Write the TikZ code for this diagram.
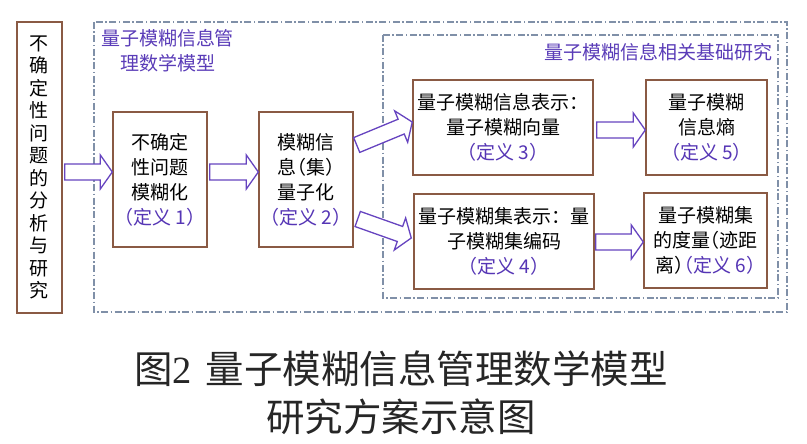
\documentclass[tikz,border=0pt]{standalone}
\usepackage{fontspec}
\setmainfont{Noto Sans CJK SC}
\newfontfamily\capserif{Liberation Serif}
\usetikzlibrary{calc}
\newcommand\lpar{{\addfontfeatures{RawFeature=+halt}（}}
\newcommand\rpar{{\addfontfeatures{RawFeature=+halt}）}}
\definecolor{boxc}{HTML}{8A5A44}
\definecolor{dashc}{HTML}{8090A8}
\definecolor{defc}{HTML}{5535B5}
\definecolor{titc}{HTML}{5A3CB8}
\definecolor{arrc}{HTML}{6644C0}
\newcommand\dy[1]{\textcolor{defc}{\lpar 定义\hspace{4pt}#1\rpar}}
\begin{document}
\begin{tikzpicture}[x=1pt,y=-1pt,
  box/.style={draw=boxc, line width=1.4pt, fill=white, inner sep=0pt, align=center,
    font=\fontsize{19}{25}\selectfont},
  zone/.style={draw=dashc, line width=1.1pt, dash pattern=on 7pt off 2.5pt on 1.5pt off 2.5pt},
  title/.style={text=titc, inner sep=0pt, align=center, font=\fontsize{19}{25}\selectfont},
  arrowst/.style={draw=arrc, line width=1.3pt, fill=white, line join=miter},
  pics/barrow/.style={code={
    \draw[arrowst] (0,-8) -- ({#1-12},-8) -- ({#1-12},-17) -- (#1,0) -- ({#1-12},17) -- ({#1-12},8) -- (0,8) -- cycle;}}
]
\useasboundingbox (0,0) rectangle (807,444);
\fill[white] (0,0) rectangle (807,444);

% dashed zones
\draw[zone] (94,22) rectangle (787,312);
\draw[zone] (383,35) rectangle (778,298);
\node[title] (t1) at (167.5,50.5) {量子模糊信息管\\理数学模型};
\node[title, anchor=east] (t2) at (773,52) {量子模糊信息相关基础研究};

% boxes
\node[box, minimum width=45, minimum height=291, font=\fontsize{19}{22.5}\selectfont] (b0) at (39.5,167.5)
  {不\\确\\定\\性\\问\\题\\的\\分\\析\\与\\研\\究};
\node[box, minimum width=94, minimum height=135] (b1) at (160,179.5) {不确定\\性问题\\模糊化\\\dy{1}};
\node[box, minimum width=94, minimum height=135] (b2) at (306,179.5) {模糊信\\息\lpar 集\rpar\\量子化\\\dy{2}};
\node[box, minimum width=180, minimum height=95] (b3) at (503,127.5) {量子模糊信息表示：\\量子模糊向量\\\dy{3}};
\node[box, minimum width=121, minimum height=95] (b5) at (706.5,127.5) {量子模糊\\信息熵\\\dy{5}};
\node[box, minimum width=180, minimum height=95] (b4) at (504,241.5) {量子模糊集表示：量\\子模糊集编码\\\dy{4}};
\node[box, minimum width=123, minimum height=95] (b6) at (705.5,240.5) {量子模糊集\\的度量\lpar 迹距\\离\rpar\dy{6}};

% arrow end points
\coordinate (a1s) at ($(b0.east |- 0,172)+(2,0)$);
\coordinate (a1e) at (b1.west |- 0,172);
\coordinate (a2s) at ($(b1.east |- 0,172)+(2,0)$);
\coordinate (a2e) at (b2.west |- 0,172);
\coordinate (a3s) at ($(b2.east)+(3,-34.5)$);
\coordinate (a3e) at ($(b3.west)+(0,-5.5)$);
\coordinate (a4s) at ($(b2.east)+(4,39.5)$);
\coordinate (a4e) at ($(b4.west)+(-2,-3.5)$);
\coordinate (a5s) at ($(b3.east)+(3,2.5)$);
\coordinate (a5e) at (b5.west |- a5s);
\coordinate (a6s) at ($(b4.east)+(1,0.5)$);
\coordinate (a6e) at (b6.west |- a6s);

\foreach \s/\e in {a1s/a1e, a2s/a2e, a3s/a3e, a4s/a4e, a5s/a5e, a6s/a6e}{
  \path let \p1=(\s), \p2=(\e), \n1={atan2(\y2-\y1,\x2-\x1)}, \n2={veclen(\x2-\x1,\y2-\y1)}
    in (\p1) pic[rotate=\n1] {barrow=\n2};
}

% caption
\node[align=center, inner sep=0pt, font=\fontsize{38.5}{48}\selectfont, text=black!85] (cap) at (401,393)
  {图{\capserif 2}\hspace{14pt}量子模糊信息管理数学模型\\研究方案示意图};
\end{tikzpicture}
\end{document}
